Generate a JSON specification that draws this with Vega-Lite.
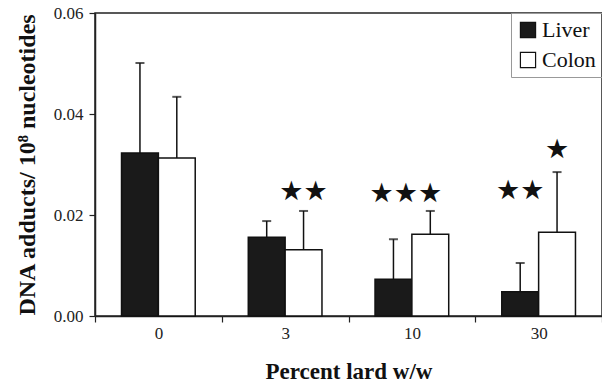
{
  "$schema": "https://vega.github.io/schema/vega-lite/v6.json",
  "autosize": {"type": "none"},
  "padding": {"left": 95, "top": 13, "right": 0, "bottom": 68},
  "width": 507,
  "height": 303,
  "background": "white",
  "config": {
    "font": "Liberation Serif",
    "view": {"stroke": "#222", "strokeWidth": 1.5},
    "axis": {"domainColor": "#222", "domainWidth": 1.5, "tickColor": "#222", "tickWidth": 1.2, "labelColor": "#222", "titleColor": "#111", "grid": false}
  },
  "data": {"values": [
    {"lard": "0", "tissue": "Liver", "value": 0.0323, "upper": 0.0501},
    {"lard": "0", "tissue": "Colon", "value": 0.0313, "upper": 0.0434},
    {"lard": "3", "tissue": "Liver", "value": 0.0156, "upper": 0.0188},
    {"lard": "3", "tissue": "Colon", "value": 0.0131, "upper": 0.0208},
    {"lard": "10", "tissue": "Liver", "value": 0.0073, "upper": 0.0152},
    {"lard": "10", "tissue": "Colon", "value": 0.0162, "upper": 0.0208},
    {"lard": "30", "tissue": "Liver", "value": 0.0048, "upper": 0.0105},
    {"lard": "30", "tissue": "Colon", "value": 0.0166, "upper": 0.0285}
  ]},
  "encoding": {
    "x": {
      "field": "lard", "type": "nominal", "sort": ["0", "3", "10", "30"],
      "scale": {"paddingInner": 0, "paddingOuter": 0},
      "axis": {"title": "Percent lard w/w", "labelAngle": 0, "tickBand": "extent", "tickSize": 6, "labelFontSize": 17, "labelPadding": 3, "titleFontSize": 23, "titleFontWeight": "bold", "titlePadding": 19}
    }
  },
  "layer": [
    {
      "mark": {"type": "bar", "stroke": "#111", "strokeWidth": 1.5},
      "encoding": {
        "xOffset": {"field": "tissue", "type": "nominal", "sort": ["Liver", "Colon"], "scale": {"paddingInner": 0, "paddingOuter": 0.72}},
        "y": {
          "field": "value", "type": "quantitative",
          "scale": {"domain": [0, 0.06], "nice": false},
          "axis": {"title": "DNA adducts/ 10⁸ nucleotides", "values": [0, 0.02, 0.04, 0.06], "format": ".2f", "tickSize": 6, "labelFontSize": 17, "labelPadding": 6, "titleFontSize": 24, "titleFontWeight": "bold", "titlePadding": 14}
        },
        "fill": {
          "field": "tissue", "type": "nominal",
          "scale": {"domain": ["Liver", "Colon"], "range": ["#1a1a1a", "#ffffff"]},
          "legend": {"title": null, "orient": "none", "legendX": 416, "legendY": 0, "symbolType": "square", "symbolSize": 230, "symbolStrokeColor": "#111", "symbolStrokeWidth": 1.2, "labelFontSize": 22, "labelColor": "#111", "labelOffset": 3, "strokeColor": "#999", "padding": 6, "rowPadding": 8}
        }
      }
    },
    {
      "mark": {"type": "rule", "color": "#111", "strokeWidth": 1.5},
      "encoding": {
        "xOffset": {"field": "tissue", "type": "nominal", "sort": ["Liver", "Colon"]},
        "y": {"field": "value", "type": "quantitative"},
        "y2": {"field": "upper"}
      }
    },
    {
      "mark": {"type": "tick", "color": "#111", "size": 9, "thickness": 2},
      "encoding": {
        "xOffset": {"field": "tissue", "type": "nominal", "sort": ["Liver", "Colon"]},
        "y": {"field": "upper", "type": "quantitative"}
      }
    },
    {
      "data": {"values": [
        {"lard": "3", "tissue": "Colon", "stars": "★★", "pos": 0.0246},
        {"lard": "30", "tissue": "Liver", "stars": "★★", "pos": 0.0248},
        {"lard": "30", "tissue": "Colon", "stars": "★", "pos": 0.0329}
      ]},
      "mark": {"type": "text", "font": "DejaVu Sans", "fontSize": 27, "color": "#111", "baseline": "middle"},
      "encoding": {
        "xOffset": {"field": "tissue", "type": "nominal", "sort": ["Liver", "Colon"]},
        "y": {"field": "pos", "type": "quantitative"},
        "text": {"field": "stars"}
      }
    },
    {
      "data": {"values": [
        {"lard": "10", "stars": "★★★", "pos": 0.0242}
      ]},
      "mark": {"type": "text", "font": "DejaVu Sans", "fontSize": 27, "color": "#111", "baseline": "middle", "dx": -6},
      "encoding": {
        "y": {"field": "pos", "type": "quantitative"},
        "text": {"field": "stars"}
      }
    }
  ]
}
